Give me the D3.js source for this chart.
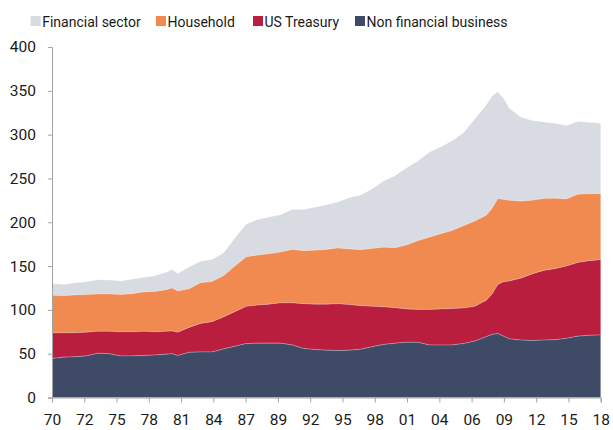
<!DOCTYPE html>
<html>
<head>
<meta charset="utf-8">
<script src="https://cdn.jsdelivr.net/npm/d3@7"></script>
<style>
  body { margin: 0; background: #fff; }
  svg text { font-family: Roboto, 'Liberation Sans', sans-serif; fill: #1a1a1a; }
</style>
</head>
<body>
<div id="chart"></div>
<script>
// decimal years of the readings
const years = [1970, 1971, 1972, 1973, 1974, 1975, 1976, 1977, 1978, 1979, 1980, 1980.5, 1981,
  1982, 1983, 1984, 1985, 1986, 1987, 1988, 1989, 1990, 1991, 1992, 1993, 1994, 1995, 1996,
  1997, 1998, 1999, 2000, 2001, 2002, 2003, 2004, 2005, 2006, 2007, 2008, 2008.5, 2009,
  2009.5, 2010, 2011, 2012, 2013, 2014, 2015, 2016, 2017, 2018]

const nonFinancial = [44.5, 46, 46.5, 47.5, 50.5, 50, 47.5, 47.5, 48, 48.5, 49.5, 50, 48,
  51.5, 52, 52, 55.4, 58.5, 61.5, 62, 62, 62, 60, 56, 54.7, 54, 53.5, 54,
  55, 58, 60.5, 62, 63, 63, 60, 59.8, 60, 61.5, 64.5, 69.5, 72, 73,
  70, 67, 65.5, 65, 65.5, 66, 67.5, 70, 71, 71.4]

const usTreasury = [29.2, 27.7, 27.5, 27, 25, 25.5, 27.5, 27.5, 27.5, 26.5, 26, 26, 26.5,
  28.5, 32.5, 34.4, 36.6, 39.5, 42.5, 43.5, 44.5, 46, 48, 51, 51.8, 52.5, 53.5, 52,
  49.8, 46, 43, 40.5, 38, 37.5, 40.4, 41.2, 41.5, 40.5, 39.5, 41.5, 46, 56,
  62, 66, 70.5, 76, 79.5, 81, 82.5, 84, 85, 85.8]

const household = [42.9, 42.3, 43, 43, 42.5, 42.5, 42.5, 43.5, 45, 46, 47.5, 49, 47,
  44, 46.5, 45.9, 47, 52, 56.5, 57, 57.5, 58, 61, 60.5, 61.5, 62.5, 63.5, 63.5,
  63.9, 66, 68, 68.5, 73, 78.5, 82.6, 86, 89.1, 94, 97.5, 97, 98, 98,
  94, 92, 88, 84, 82, 80.5, 76.5, 78, 76.5, 75.4]

const financial = [13.4, 13, 14, 14.5, 16.5, 16, 15.5, 16.5, 16.5, 18, 20, 21, 20,
  25, 24.5, 25.1, 26, 32, 37.5, 40.5, 42, 42.5, 45.5, 47, 49, 51, 52.5, 58.5,
  62.3, 68, 75.5, 82, 88, 91, 97, 99, 102.4, 106, 116.5, 126, 128, 122,
  115.5, 105, 96, 91, 87.5, 85.5, 84, 83, 81.5, 80.4]

const seriesNames = ['Non financial business', 'US Treasury', 'Household', 'Financial sector']
const seriesColors = ['#3f4b66', '#b91e3e', '#f08a51', '#d8dbe2']
const legendOrder = ['Financial sector', 'Household', 'US Treasury', 'Non financial business']

const xTickLabels = ['70', '72', '75', '78', '81', '84', '87', '89', '92', '95', '98',
  '01', '04', '06', '09', '12', '15', '18']
const yTicks = [0, 50, 100, 150, 200, 250, 300, 350, 400]

const width = 613, height = 430
const margin = { top: 47, right: 12, bottom: 32, left: 52 }

const svg = d3.select('#chart').append('svg')
  .attr('width', width)
  .attr('height', height)

const x = d3.scaleLinear()
  .domain([1970, 2018])
  .range([margin.left, 600.7])

const y = d3.scaleLinear()
  .domain([0, 400])
  .range([height - margin.bottom - 0.5, margin.top])

const rows = years.map((yr, i) => ({
  year: yr,
  [seriesNames[0]]: nonFinancial[i],
  [seriesNames[1]]: usTreasury[i],
  [seriesNames[2]]: household[i],
  [seriesNames[3]]: financial[i],
}))

const stacked = d3.stack().keys(seriesNames)(rows)

const area = d3.area()
  .x((d) => x(d.data.year))
  .y0((d) => y(d[0]))
  .y1((d) => y(d[1]))

svg.append('g')
  .selectAll('path')
  .data(stacked.slice().reverse())
  .join('path')
  .attr('d', area)
  .attr('fill', (d) => seriesColors[seriesNames.indexOf(d.key)])
  .attr('stroke', 'rgba(255,255,255,0.35)')
  .attr('stroke-width', 0.6)

// axes
const yAxis = svg.append('g')
  .attr('transform', `translate(${margin.left},0)`)
  .call(d3.axisLeft(y).tickValues(yTicks).tickSize(4).tickPadding(12))
yAxis.select('.domain').attr('stroke', '#a3a3a3')
yAxis.selectAll('.tick line').attr('stroke', '#a3a3a3')
yAxis.selectAll('.tick text').style('font-size', '15.5px').attr('fill', '#1a1a1a')

const step = (2018 - 1970) / (xTickLabels.length - 1)
const xTickVals = xTickLabels.map((_, i) => 1970 + i * step)

const xAxis = svg.append('g')
  .attr('transform', `translate(0,${y(0)})`)
  .call(d3.axisBottom(x).tickValues(xTickVals).tickSize(5).tickPadding(11)
    .tickFormat((d, i) => xTickLabels[i]))
xAxis.select('.domain').attr('stroke', '#a3a3a3')
xAxis.selectAll('.tick line').attr('stroke', '#a3a3a3')
xAxis.selectAll('.tick text').style('font-size', '15.5px').attr('fill', '#1a1a1a')

// legend
const legendX = [30.7, 156, 253, 355]
const legend = svg.append('g')
legendOrder.forEach((name, i) => {
  const g = legend.append('g').attr('transform', `translate(${legendX[i]},16)`)
  g.append('rect')
    .attr('width', 10)
    .attr('height', 10)
    .attr('fill', seriesColors[seriesNames.indexOf(name)])
  g.append('text')
    .attr('x', 11.5)
    .attr('y', 10.5)
    .style('font-size', '14px')
    .text(name)
})
</script>
</body>
</html>
